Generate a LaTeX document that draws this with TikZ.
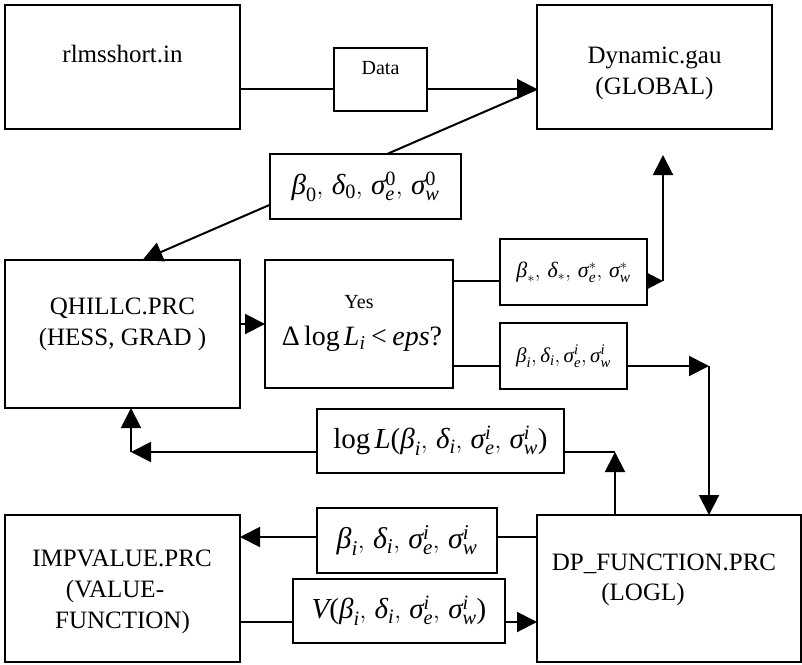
\documentclass[tikz,border=0pt]{standalone}
\usepackage{amsmath}
\usepackage{fontspec}
\setmainfont{Liberation Serif}
\usetikzlibrary{arrows.meta,backgrounds}
\newcommand\gi[1]{\textit{#1}}
\newcommand\gu[1]{\textrm{#1}}
\newcommand\cma{,\mspace{3mu}}
\newcommand\fsz[1]{\fontsize{#1}{#1}\selectfont}
\begin{document}
\begin{tikzpicture}[x=1pt,y=-1pt,
  box/.style={draw,line width=2pt,fill=white,inner sep=0pt,outer sep=0pt},
  txt/.style={anchor=base,inner sep=0pt,outer sep=0pt,font=\fsz{25}},
  conn/.style={line width=2pt},
  arr/.style={conn,-{Triangle[length=20pt,width=20pt]}},
  sarr/.style={conn,-{Triangle[length=15pt,width=15pt]}}]
\fill[white] (0,0) rectangle (802,664);
\useasboundingbox (0,0) rectangle (802,664);
% boxes
\node[box,minimum width=235pt,minimum height=124pt] (rlms) at (122.5,67) {};
\node[box,minimum width=93pt,minimum height=63pt] (data) at (380.5,79.5) {};
\node[box,minimum width=235pt,minimum height=124pt] (dyn) at (654.5,67) {};
\node[box,minimum width=235pt,minimum height=148pt] (qh) at (122.5,334) {};
\node[box,minimum width=188pt,minimum height=128pt] (yes) at (359,324) {};
\node[box,minimum width=235pt,minimum height=147pt] (imp) at (122.5,588.5) {};
\node[box,minimum width=264pt,minimum height=147pt] (dp) at (669,588.5) {};
% texts
\node[txt] (t1) at (122.5,62) {rlmsshort.in};
\node[txt,font=\fsz{20}] (t2) at (380.5,74) {Data};
\node[txt] (t3a) at (654.5,63) {Dynamic.gau};
\node[txt] (t3b) at (654.5,94) {(GLOBAL)};
\node[txt] (t4a) at (122.5,314) {QHILLC.PRC};
\node[txt] (t4b) at (122.5,345) {(HESS, GRAD )};
\node[txt,font=\fsz{20}] (t5a) at (359,308) {Yes};
\node[txt,font=\fsz{28}] (t5b) at (362,345) {$\gu{Δ}\,\gu{log}\,\gi{L}_{\gi{i}} \mathbin{\gu{<}} \gi{eps}\gu{?}$};
\node[txt] (t6a) at (122,566) {IMPVALUE.PRC};
\node[txt] (t6b) at (115,597) {(VALUE-};
\node[txt] (t6c) at (122.5,628) {FUNCTION)};
\node[txt] (t7a) at (664,570) {DP\_FUNCTION.PRC};
\node[txt] (t7b) at (643,600) {(LOGL)};
% connectors drawn behind the parameter box
\draw[conn] ([yshift=-22pt]rlms.east) -- ([yshift=-9.5pt]data.west);
\draw[arr] ([yshift=-9.5pt]data.east) -- ([yshift=-22pt]dyn.west);
\draw[arr] ([yshift=-22pt]dyn.west) -- ([xshift=20pt]qh.north);
% parameter boxes
\node[box,minimum width=191pt,minimum height=65pt,font=\fsz{29}] (b0) at (365.5,186.5)
  {$\gi{β}_{\gu{0}}\cma\gi{δ}_{\gu{0}}\cma\gi{σ}^{\gu{0}}_{\gi{e}}\cma\gi{σ}^{\gu{0}}_{\gi{w}}$};
\node[box,minimum width=147pt,minimum height=66pt,font=\fsz{22}] (bs) at (573.5,272)
  {$\gi{β}_{*}\cma\gi{δ}_{*}\cma\gi{σ}^{*}_{\gi{e}}\cma\gi{σ}^{*}_{\gi{w}}$};
\node[box,minimum width=127pt,minimum height=66pt,font=\fsz{21}] (bi) at (563.5,356)
  {$\gi{β}_{\gi{i}},\gi{δ}_{\gi{i}},\gi{σ}^{\gi{i}}_{\gi{e}},\gi{σ}^{\gi{i}}_{\gi{w}}$};
\node[box,minimum width=247pt,minimum height=64pt,font=\fsz{29}] (ll) at (440.5,441)
  {$\gu{log}\,\gi{L}\gu{(}\gi{β}_{\gi{i}}\cma\gi{δ}_{\gi{i}}\cma\gi{σ}^{\gi{i}}_{\gi{e}}\cma\gi{σ}^{\gi{i}}_{\gi{w}}\gu{)}$};
\node[box,minimum width=180pt,minimum height=65pt,font=\fsz{30}] (bib) at (407,540.5)
  {$\gi{β}_{\gi{i}}\cma\gi{δ}_{\gi{i}}\cma\gi{σ}^{\gi{i}}_{\gi{e}}\cma\gi{σ}^{\gi{i}}_{\gi{w}}$};
\node[box,minimum width=212pt,minimum height=64pt,font=\fsz{29}] (vv) at (399,611)
  {$\gi{V}\gu{(}\gi{β}_{\gi{i}}\cma\gi{δ}_{\gi{i}}\cma\gi{σ}^{\gi{i}}_{\gi{e}}\cma\gi{σ}^{\gi{i}}_{\gi{w}}\gu{)}$};
\coordinate (c1) at (663,281);
\coordinate (c2) at (663,155);
\coordinate (c3) at (709,366);
\coordinate (c4) at (615,452);
\coordinate (c5) at (131,452);
\draw[arr] (qh.east |- yes.west) -- (yes.west);
\draw[conn] ([yshift=-21pt]yes.north east) -- ([yshift=-9pt]bs.west);
\draw[sarr] ([yshift=-9pt]bs.east) -- (c1);
\draw[arr] (c1) -- (c2);
\draw[conn] ([yshift=22pt]yes.south east) -- ([yshift=-10pt]bi.west);
\draw[arr] ([yshift=-10pt]bi.east) -- (c3);
\draw[arr] (c3) -- (c3 |- dp.north);
\draw[arr] (c4 |- dp.north) -- (c4);
\draw[conn] ([yshift=-11pt]ll.east) -- (c4);
\draw[arr] ([yshift=-11pt]ll.west) -- (c5);
\draw[arr] (c5) -- (c5 |- qh.south);
\draw[arr] ([yshift=3.5pt]bib.west) -- ([yshift=51.5pt]imp.east);
\draw[conn] ([yshift=3.5pt]bib.east) -- ([yshift=51.5pt]dp.west);
\draw[conn] ([yshift=-33.5pt]imp.east) -- ([yshift=-11pt]vv.west);
\draw[arr] ([yshift=-11pt]vv.east) -- ([yshift=-33.5pt]dp.west);
\end{tikzpicture}
\end{document}
